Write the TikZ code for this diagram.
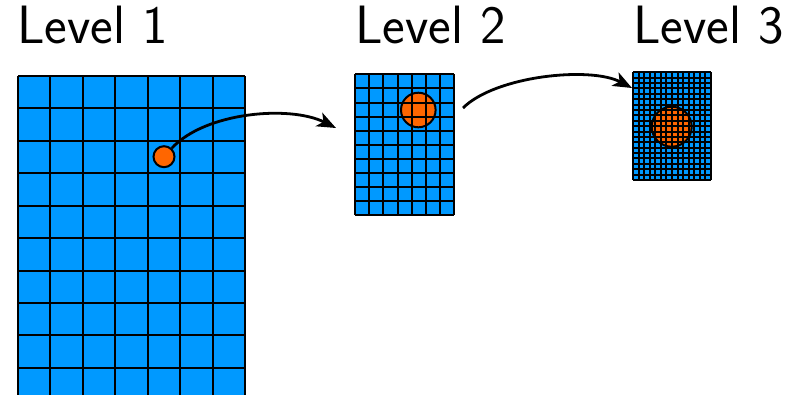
\documentclass[tikz,border=0pt]{standalone}
\usetikzlibrary{arrows.meta}
\definecolor{cellblue}{RGB}{0,153,255}
\definecolor{dotorange}{RGB}{255,102,0}
\tikzset{
  gridline/.style={black, line width=2pt},
  levellabel/.style={anchor=base west, inner sep=0pt, font=\sffamily\fontsize{54}{60}\selectfont},
  probe/.style={circle, draw=black, fill=dotorange, line width=2pt, inner sep=0pt},
  probeunder/.style={draw=black, fill=dotorange, line width=2pt},
  linkarrow/.style={line width=2.8pt, -{Stealth[length=19pt,width=15pt,inset=5pt]}},
}
\begin{document}
\begin{tikzpicture}[x=1pt,y=-1pt]
\useasboundingbox (0,0) rectangle (789,394);
\clip (0,0) rectangle (789,394);

% titles
\node[levellabel] (t1) at (17,43.5) {Level 1};
\node[levellabel] (t2) at (355,43.5) {Level 2};
\node[levellabel] (t3) at (633,43.5) {Level 3};

% level 1: coarse grid, 7 columns, runs past the lower edge
\fill[cellblue] (18,76) rectangle (245,466);
\foreach \i in {0,...,7}
  \draw[gridline] ({18+\i*32.43},76) -- ({18+\i*32.43},466);
\foreach \j in {0,...,11}
  \draw[gridline] (18,{76+\j*32.43}) -- (245,{76+\j*32.43});
\node[probe, minimum size=21pt] (c1) at (164,156.7) {};

% level 2: 7 x 10 grid, probe underneath the lines
\fill[cellblue] (355,74.3) rectangle (454.3,215.3);
\filldraw[probeunder] (418.3,110) circle (17.3);
\foreach \i in {0,...,7}
  \draw[gridline] ({355+\i*14.19},74.3) -- ({355+\i*14.19},215.3);
\foreach \j in {0,...,10}
  \draw[gridline] (355,{74.3+\j*14.1}) -- (454.3,{74.3+\j*14.1});

% level 3: fine 14 x 20 grid, probe underneath the lines
\fill[cellblue] (633.3,72.3) rectangle (710.7,180);
\filldraw[probeunder] (671.7,126.7) circle (20);
\foreach \i in {0,...,14}
  \draw[gridline] ({633.3+\i*5.529},72.3) -- ({633.3+\i*5.529},180);
\foreach \j in {0,...,20}
  \draw[gridline] (633.3,{72.3+\j*5.385}) -- (710.7,{72.3+\j*5.385});

% links between levels
\coordinate (a1end) at (336,128);
\coordinate (a2start) at (463,108);
\coordinate (a2end) at (632,88);
\draw[linkarrow] (c1) .. controls (205,112) and (290,105) .. (a1end);
\draw[linkarrow] (a2start) .. controls (495,76) and (590,66) .. (a2end);
\end{tikzpicture}
\end{document}
